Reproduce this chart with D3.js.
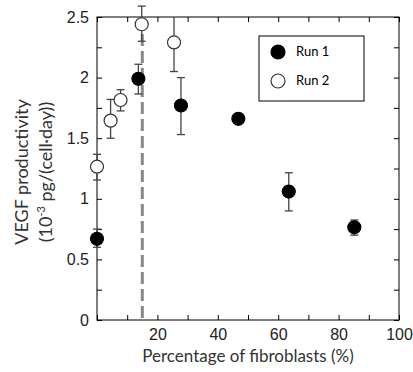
<!DOCTYPE html>
<html>
<head>
<meta charset="utf-8">
<script src="https://cdn.jsdelivr.net/npm/d3@7"></script>
<style>
  body { margin: 0; background: #fff; }
  svg { display: block; font-family: Lato, "Open Sans", sans-serif; }
</style>
</head>
<body>
<svg id="chart" width="413" height="372"></svg>
<script>
// Run 1 (filled)
var run1X = [0, 13.7, 27.8, 46.8, 63.5, 85.2];
var run1Y = [0.67, 1.99, 1.77, 1.66, 1.06, 0.765];
var run1Lo = [0.60, 1.865, 1.53, 1.63, 0.90, 0.70];
var run1Hi = [0.75, 2.11, 2.00, 1.69, 1.215, 0.825];

// Run 2 (open)
var run2X = [0, 4.5, 7.8, 14.8, 25.5];
var run2Y = [1.265, 1.645, 1.815, 2.44, 2.29];
var run2Lo = [1.155, 1.50, 1.725, 2.30, 2.05];
var run2Hi = [1.367, 1.82, 1.90, 2.59, 2.5];

var xTickLabels = [20, 40, 60, 80, 100];
var yTickLabels = [0, 0.5, 1, 1.5, 2, 2.5];
var thresholdX = 15;
var seriesNames = ["Run 1", "Run 2"];

var svg = d3.select("#chart");
var margin = {left: 97, top: 17, right: 14, bottom: 52};
var width = 413 - margin.left - margin.right,
    height = 372 - margin.top - margin.bottom;

var x = d3.scaleLinear().domain([0, 100]).range([0, width]);
var y = d3.scaleLinear().domain([0, 2.5]).range([height, 0]);

var g = svg.append("g")
    .attr("transform", "translate(" + margin.left + "," + margin.top + ")");

// tick marks (inside, all four sides)
var xMinor = d3.range(0, 101, 10);
var yMinor = d3.range(0, 2.51, 0.25);
var tickLen = 5;

function styleAxis(sel) {
    sel.select(".domain").remove();
    sel.selectAll(".tick line").attr("stroke", "#000");
    sel.selectAll("text")
        .attr("font-size", 16)
        .attr("fill", "#222")
        .attr("font-family", "Liberation Sans, Arial, sans-serif");
}

g.append("g")
    .attr("transform", "translate(0," + height + ")")
    .call(d3.axisBottom(x).tickValues(xMinor).tickSizeInner(-tickLen).tickSizeOuter(0)
        .tickFormat(function(d) { return xTickLabels.indexOf(d) >= 0 ? d : ""; })
        .tickPadding(9))
    .call(styleAxis);

g.append("g")
    .call(d3.axisTop(x).tickValues(xMinor).tickSizeInner(-tickLen).tickSizeOuter(0).tickFormat(""))
    .call(styleAxis);

g.append("g")
    .call(d3.axisLeft(y).tickValues(yMinor).tickSizeInner(-tickLen).tickSizeOuter(0)
        .tickFormat(function(d) { return yTickLabels.indexOf(d) >= 0 ? d3.format("")(d) : ""; })
        .tickPadding(8))
    .call(styleAxis);

g.append("g")
    .attr("transform", "translate(" + width + ",0)")
    .call(d3.axisRight(y).tickValues(yMinor).tickSizeInner(-tickLen).tickSizeOuter(0).tickFormat(""))
    .call(styleAxis);

// frame
g.append("rect")
    .attr("width", width)
    .attr("height", height)
    .attr("fill", "none")
    .attr("stroke", "#000")
    .attr("stroke-width", 1);

// threshold dashed line
g.append("line")
    .attr("x1", x(thresholdX)).attr("x2", x(thresholdX))
    .attr("y1", y(2.5)).attr("y2", y(0))
    .attr("stroke", "#888")
    .attr("stroke-width", 3)
    .attr("stroke-dasharray", "12,5");

function drawSeries(xs, ys, lo, hi, filled) {
    var data = xs.map(function(d, i) { return {x: d, y: ys[i], lo: lo[i], hi: hi[i]}; });
    var eb = g.append("g").selectAll("g").data(data).enter().append("g")
        .attr("stroke", "#444").attr("stroke-width", 1.3);
    eb.append("line")
        .attr("x1", function(d) { return x(d.x); })
        .attr("x2", function(d) { return x(d.x); })
        .attr("y1", function(d) { return y(d.lo); })
        .attr("y2", function(d) { return y(d.hi); });
    eb.filter(function(d) { return d.hi !== 2.5; }).append("line")
        .attr("x1", function(d) { return x(d.x) - 4; })
        .attr("x2", function(d) { return x(d.x) + 4; })
        .attr("y1", function(d) { return y(d.hi); })
        .attr("y2", function(d) { return y(d.hi); });
    eb.append("line")
        .attr("x1", function(d) { return x(d.x) - 4; })
        .attr("x2", function(d) { return x(d.x) + 4; })
        .attr("y1", function(d) { return y(d.lo); })
        .attr("y2", function(d) { return y(d.lo); });
    g.append("g").selectAll("circle").data(data).enter().append("circle")
        .attr("cx", function(d) { return x(d.x); })
        .attr("cy", function(d) { return y(d.y); })
        .attr("r", 6.5)
        .attr("fill", filled ? "#000" : "#fff")
        .attr("stroke", filled ? "#000" : "#333")
        .attr("stroke-width", 1.2);
}

drawSeries(run2X, run2Y, run2Lo, run2Hi, false);
drawSeries(run1X, run1Y, run1Lo, run1Hi, true);

// legend
var legend = svg.append("g").attr("transform", "translate(259,36)");
legend.append("rect")
    .attr("width", 105).attr("height", 65)
    .attr("fill", "#fff").attr("stroke", "#000").attr("stroke-width", 1);
seriesNames.forEach(function(name, i) {
    legend.append("circle")
        .attr("cx", 19).attr("cy", 16 + i * 29)
        .attr("r", 7)
        .attr("fill", i === 0 ? "#000" : "#fff")
        .attr("stroke", i === 0 ? "#000" : "#333")
        .attr("stroke-width", 1.2);
    legend.append("text")
        .attr("x", 37).attr("y", 20 + i * 29)
        .attr("font-size", 13)
        .attr("fill", "#000")
        .text(name);
});

// axis titles
svg.append("text")
    .attr("x", margin.left + width / 2)
    .attr("y", 362)
    .attr("text-anchor", "middle")
    .attr("font-size", 17)
    .attr("fill", "#333")
    .text("Percentage of fibroblasts (%)");

var yt = svg.append("text")
    .attr("transform", "translate(28,172) rotate(-90)")
    .attr("text-anchor", "middle")
    .attr("font-size", 18)
    .attr("fill", "#333");
yt.append("tspan").attr("x", 0).attr("dy", 0).text("VEGF productivity");
var l2 = yt.append("tspan").attr("x", 0).attr("dy", 24);
l2.append("tspan").text("(10");
l2.append("tspan").attr("font-size", 11).attr("dy", -7).text("-3");
l2.append("tspan").attr("dy", 7).text(" pg/(cell\u00b7day))");
</script>
</body>
</html>
